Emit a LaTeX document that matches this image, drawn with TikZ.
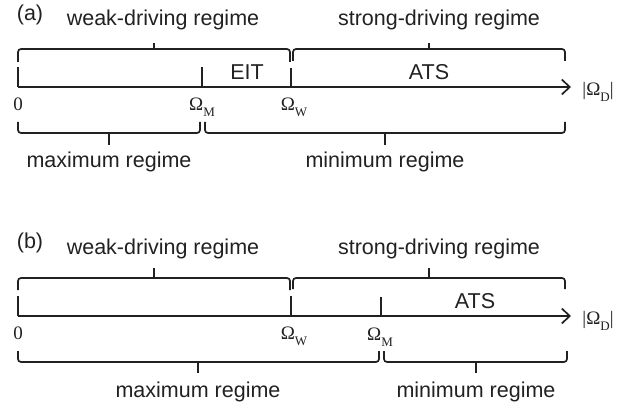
\documentclass[tikz,border=0pt]{standalone}
\usepackage{fontspec}
\setmainfont{Liberation Sans}
\newfontfamily\serifmath{Liberation Serif}
\usetikzlibrary{arrows.meta}
\definecolor{ink}{gray}{0.13}
\newcommand\omlab[1]{{\serifmath\fontsize{19}{21}\selectfont Ω\raisebox{-0.3em}{\fontsize{13}{14}\selectfont #1}}}
\newcommand\barlab{{\serifmath\fontsize{19}{21}\selectfont|}}
\tikzset{
  lbl/.style={text=ink, font=\fontsize{21.5}{23}\selectfont, inner sep=0pt},
  mlbl/.style={text=ink, inner sep=0pt},
  axisline/.style={draw=ink, line width=1.7pt, -{Straight Barb[length=8pt,width=15pt,line width=1.7pt]}},
  tickline/.style={draw=ink, line width=1.7pt},
  bracestyle/.style={draw=ink, line width=1.7pt, rounded corners=3pt},
}
% #1 x-left, #2 x-right, #3 x-tip, #4 y-line, #5 y-leg end, #6 y-tip end
\newcommand\regbrace[6]{%
  \draw[bracestyle] (#1,#5) -- (#1,#4) -- (#2,#4) -- (#2,#5);
  \draw[tickline] (#3,#4) -- (#3,#6);
}
\begin{document}
\begin{tikzpicture}[x=1pt,y=-1pt]
\useasboundingbox (0,0) rectangle (644,411);
% ---------------- panel (a)
\node[lbl] (pa) at (30,15) {(a)};
\node[lbl] (weaka) at (163,20) {weak-driving regime};
\node[lbl] (stronga) at (439,20) {strong-driving regime};
\regbrace{18}{290}{154}{49}{62}{43}
\regbrace{293}{565}{429}{49}{61}{43}
\coordinate (a0) at (18,87);
\coordinate (aM) at (202,87);
\coordinate (aW) at (291,87);
\coordinate (aend) at (571,87);
\draw[axisline] (a0) -- (aend);
\draw[tickline] (a0) -- ++(0,-20);
\draw[tickline] (aM) -- ++(0,-20);
\draw[tickline] (aW) -- ++(0,-19);
\node[lbl] (eit) at (247,72) {EIT};
\node[lbl] (atsa) at (429,72) {ATS};
\node[mlbl] (za) at (18,104) {\serifmath\fontsize{19}{21}\selectfont 0};
\node[mlbl] (oma) at (202,107) {\omlab{M}};
\node[mlbl] (owa) at (294,107) {\omlab{W}};
\node[mlbl] (oda) at (598,92) {\barlab\omlab{D}\barlab};
\regbrace{18}{200}{109}{133}{122}{145}
\regbrace{205}{565}{385}{133}{122}{145}
\node[lbl] (maxa) at (109,162) {maximum regime};
\node[lbl] (mina) at (385,162) {minimum regime};
% ---------------- panel (b)
\node[lbl] (pb) at (30,243) {(b)};
\node[lbl] (weakb) at (163,249) {weak-driving regime};
\node[lbl] (strongb) at (439,249) {strong-driving regime};
\regbrace{18}{290}{154}{278}{290}{268}
\regbrace{293}{565}{429}{278}{289}{268}
\coordinate (b0) at (18,316);
\coordinate (bW) at (291,316);
\coordinate (bM) at (381,316);
\coordinate (bend) at (571,316);
\draw[axisline] (b0) -- (bend);
\draw[tickline] (b0) -- ++(0,-20);
\draw[tickline] (bW) -- ++(0,-20);
\draw[tickline] (bM) -- ++(0,-19);
\node[lbl] (atsb) at (475,301) {ATS};
\node[mlbl] (zb) at (18,333) {\serifmath\fontsize{19}{21}\selectfont 0};
\node[mlbl] (owb) at (294,336) {\omlab{W}};
\node[mlbl] (omb) at (380,337) {\omlab{M}};
\node[mlbl] (odb) at (598,321) {\barlab\omlab{D}\barlab};
\regbrace{18}{379}{198}{362}{351}{373}
\regbrace{384}{567}{476}{362}{351}{373}
\node[lbl] (maxb) at (198,392) {maximum regime};
\node[lbl] (minb) at (476,392) {minimum regime};
\end{tikzpicture}
\end{document}
